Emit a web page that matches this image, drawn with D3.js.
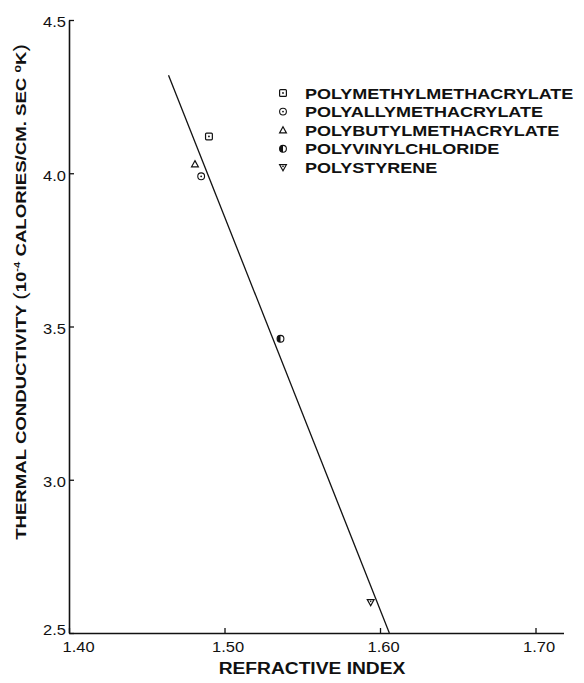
<html>
    <head>
        <title> Thermal conductivity vs refractive index </title>
        <script src="https://d3js.org/d3.v7.min.js" charset="utf-8"></script>
        <style>
        body {
            margin: 0;
            background: white;
            font-family: "Liberation Sans", Arial, sans-serif;
        }
        .tick text {
            font-size: 15px;
            fill: #111;
        }
        .lbl {
            font-size: 15px;
            font-weight: bold;
            fill: #111;
        }
        </style>
    </head>
    <body>
        <script>
            // size of graphic
            var width = 584;
            var height = 683;

            // polymers, as in the legend
            var polymers = ["POLYMETHYLMETHACRYLATE", "POLYALLYMETHACRYLATE", "POLYBUTYLMETHACRYLATE",
                            "POLYVINYLCHLORIDE", "POLYSTYRENE"];
            var symbols = ["square", "circle", "triangle", "half", "down"];
            // refractive index and thermal conductivity (10^-4 cal/cm sec K)
            var refIndex = [1.490, 1.485, 1.481, 1.536, 1.594];
            var conductivity = [4.12, 3.99, 4.03, 3.46, 2.60];

            // fitted straight line, two end points
            var fitX = [1.464, 1.606];
            var fitY = [4.32, 2.50];

            // tick labels
            var xTicks = [1.40, 1.50, 1.60, 1.70];
            var yTicks = [2.5, 3.0, 3.5, 4.0, 4.5];

            var svg = d3.select("body")
                .append("svg")
                .attr("width", width)
                .attr("height", height);

            // scales
            var x = d3.scaleLinear().domain([1.40, 1.718]).range([69, 563.5]);
            var y = d3.scaleLinear().domain([2.5, 4.5]).range([633, 20]);

            // widen the glyphs a little, the original lettering is extended
            function stretch(sel, k) {
                sel.each(function () {
                    var len = this.getComputedTextLength();
                    this.setAttribute("textLength", len * k);
                    this.setAttribute("lengthAdjust", "spacingAndGlyphs");
                });
            }

            // x axis, ticks pointing up into the plot
            var gx = svg.append("g")
                .attr("transform", "translate(0," + y(2.5) + ")")
                .call(d3.axisBottom(x).tickValues(xTicks).tickFormat(d3.format(".2f"))
                    .tickSizeInner(-5).tickSizeOuter(0).tickPadding(8));
            gx.select(".domain").attr("stroke", "#111").attr("stroke-width", 1.6);
            gx.selectAll(".tick line").attr("stroke", "#111").attr("stroke-width", 1.3);
            gx.selectAll(".tick text").attr("font-family", null).attr("font-size", null)
                .attr("dx", function (d) { return d == 1.40 ? 9 : 3; });

            // y axis, ticks pointing right
            var gy = svg.append("g")
                .attr("transform", "translate(" + x(1.40) + ",0)")
                .call(d3.axisLeft(y).tickValues(yTicks).tickFormat(d3.format(".1f"))
                    .tickSizeInner(-5).tickSizeOuter(0).tickPadding(3));
            gy.select(".domain").attr("stroke", "#111").attr("stroke-width", 1.6);
            gy.selectAll(".tick line").attr("stroke", "#111").attr("stroke-width", 1.3);
            gy.selectAll(".tick text").attr("font-family", null).attr("font-size", null)
                .attr("dy", function (d) { return d == 2.5 ? "0.1em" : "0.45em"; });
            stretch(gx.selectAll(".tick text"), 1.1);
            stretch(gy.selectAll(".tick text"), 1.1);

            // fitted line
            svg.append("line")
                .attr("x1", x(fitX[0])).attr("y1", y(fitY[0]))
                .attr("x2", x(fitX[1])).attr("y2", y(fitY[1]))
                .attr("stroke", "#111")
                .attr("stroke-width", 1.3);

            // draw one marker at (cx, cy)
            function marker(g, kind, cx, cy) {
                var s = 3.4;
                if (kind == "square") {
                    g.append("rect").attr("x", cx - s).attr("y", cy - s)
                        .attr("width", 2 * s).attr("height", 2 * s).attr("rx", 1)
                        .attr("fill", "white").attr("stroke", "#111").attr("stroke-width", 1.2);
                    g.append("circle").attr("cx", cx).attr("cy", cy).attr("r", 0.9).attr("fill", "#111");
                } else if (kind == "circle") {
                    g.append("circle").attr("cx", cx).attr("cy", cy).attr("r", s)
                        .attr("fill", "white").attr("stroke", "#111").attr("stroke-width", 1.1);
                    g.append("circle").attr("cx", cx).attr("cy", cy).attr("r", 0.9).attr("fill", "#111");
                } else if (kind == "triangle") {
                    g.append("path")
                        .attr("d", "M" + cx + "," + (cy - s) + "L" + (cx + s) + "," + (cy + s * 0.8) +
                              "L" + (cx - s) + "," + (cy + s * 0.8) + "Z")
                        .attr("fill", "white").attr("stroke", "#111").attr("stroke-width", 1.2);
                } else if (kind == "half") {
                    g.append("circle").attr("cx", cx).attr("cy", cy).attr("r", s)
                        .attr("fill", "white").attr("stroke", "#111").attr("stroke-width", 1.1);
                    g.append("path")
                        .attr("d", "M" + cx + "," + (cy - s) + "A" + s + "," + s + " 0 0,0 " + cx + "," + (cy + s) + "Z")
                        .attr("fill", "#111");
                } else {
                    g.append("path")
                        .attr("d", "M" + (cx - s) + "," + (cy - s * 0.8) + "L" + (cx + s) + "," + (cy - s * 0.8) +
                              "L" + cx + "," + (cy + s) + "Z")
                        .attr("fill", "white").attr("stroke", "#111").attr("stroke-width", 1.2);
                    g.append("circle").attr("cx", cx).attr("cy", cy - 1).attr("r", 0.8).attr("fill", "#111");
                }
            }

            // data points
            var pts = svg.append("g");
            polymers.forEach(function (p, i) {
                marker(pts, symbols[i], x(refIndex[i]), y(conductivity[i]));
            });

            // legend
            var leg = svg.append("g");
            polymers.forEach(function (p, i) {
                var ly = 93 + i * 18.6;
                marker(leg, symbols[i], 283, ly);
                leg.append("text")
                    .attr("class", "lbl legtext")
                    .attr("x", 305)
                    .attr("y", ly + 5.5)
                    .text(p);
            });
            stretch(leg.selectAll("text"), 1.2);

            // axis titles
            var xt = svg.append("text")
                .attr("class", "lbl")
                .attr("x", 312)
                .attr("y", 674)
                .attr("text-anchor", "middle")
                .style("font-size", "16px")
                .text("REFRACTIVE INDEX");
            stretch(xt, 1.2);

            var yt = svg.append("text")
                .attr("class", "lbl")
                .attr("transform", "translate(26,292) rotate(-90)")
                .attr("text-anchor", "middle");
            yt.append("tspan").text("THERMAL CONDUCTIVITY  ");
            yt.append("tspan").style("font-weight", "normal").style("font-size", "18px").text("(");
            yt.append("tspan").text("10");
            yt.append("tspan").attr("dy", -6).style("font-size", "9px").text("-4");
            yt.append("tspan").attr("dy", 6).text(" CALORIES/CM. SEC ");
            yt.append("tspan").attr("dy", -5).style("font-size", "10px").text("o");
            yt.append("tspan").attr("dy", 5).text("K");
            yt.append("tspan").style("font-weight", "normal").style("font-size", "18px").text(")");
            stretch(yt, 1.24);
        </script>
    </body>
</html>
